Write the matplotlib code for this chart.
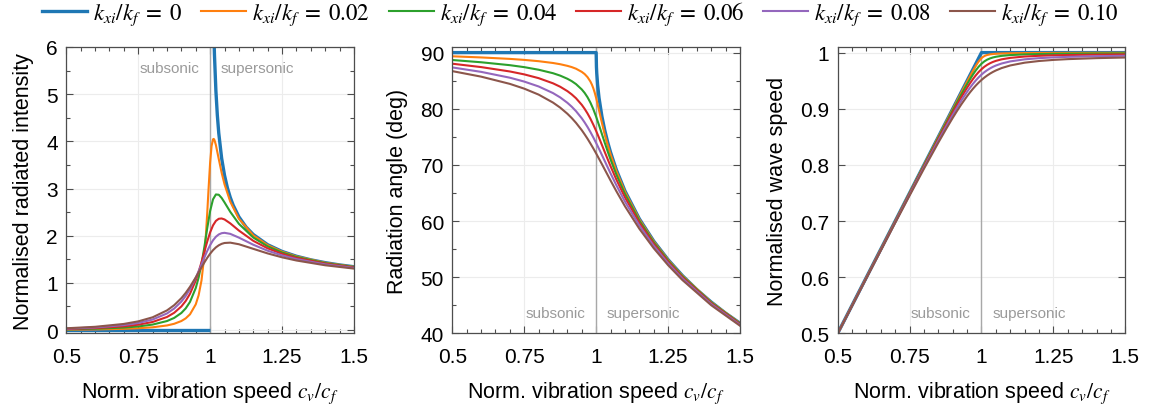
import matplotlib
matplotlib.use("Agg")
import matplotlib.pyplot as plt
from matplotlib.ticker import MultipleLocator, FuncFormatter, NullLocator

plt.rcParams["font.family"] = ["Liberation Sans", "DejaVu Sans"]
plt.rcParams["mathtext.fontset"] = "stix"

# ---- data ----
DAMPING = ["0", "0.02", "0.04", "0.06", "0.08", "0.10"]
COLORS = ["#1f77b4", "#ff7f0e", "#2ca02c", "#d62728", "#9467bd", "#8c564b"]

# undamped (kxi/kf = 0)
x0_sub = [0.5, 1.0]
int0_sub = [0.0, 0.0]
x0_int = [1.01, 1.012, 1.015, 1.02, 1.025, 1.03, 1.04, 1.05, 1.06, 1.07, 1.08,
          1.1, 1.125, 1.15, 1.2, 1.25, 1.3, 1.35, 1.4, 1.45, 1.5]
int0 = [7.124, 6.513, 5.838, 5.075, 4.556, 4.174, 3.641, 3.280, 3.015, 2.811, 2.648,
        2.400, 2.183, 2.025, 1.809, 1.667, 1.565, 1.489, 1.429, 1.381, 1.342]
x0_ang = [0.5, 1.0, 1.001, 1.002, 1.005, 1.01, 1.02, 1.03, 1.04, 1.05, 1.07, 1.1,
          1.15, 1.2, 1.25, 1.3, 1.35, 1.4, 1.45, 1.5]
ang0 = [90, 90, 87.44, 86.38, 84.28, 81.93, 78.63, 76.14, 74.06, 72.25, 69.16, 65.38,
        60.41, 56.44, 53.13, 50.28, 47.79, 45.58, 43.60, 41.81]
x0_spd = [0.5, 1.0, 1.5]
spd0 = [0.5, 1.0, 1.0]

# kxi/kf = 0.02 (finer grid near 1)
x_02 = [0.5, 0.6, 0.7, 0.75, 0.8, 0.85, 0.875, 0.9, 0.915, 0.93, 0.95, 0.96, 0.97,
        0.98, 0.985, 0.99, 0.995, 1.0, 1.005, 1.01, 1.0125, 1.015, 1.02, 1.03, 1.04,
        1.05, 1.07, 1.1, 1.15, 1.2, 1.25, 1.3, 1.4, 1.5]
int_02 = [0.0077, 0.0141, 0.0269, 0.0388, 0.0590, 0.0981, 0.1334, 0.1918, 0.2480,
          0.3340, 0.5453, 0.7379, 1.0523, 1.5924, 1.9922, 2.4892, 3.0435, 3.5531,
          3.9005, 4.0439, 4.0516, 4.0283, 3.9228, 3.6249, 3.3352, 3.0902, 2.7206,
          2.3596, 2.0082, 1.7999, 1.6609, 1.5609, 1.4265, 1.3400]
ang_02 = [89.34, 89.14, 88.88, 88.70, 88.47, 88.15, 87.93, 87.64, 87.42, 87.13, 86.57,
          86.18, 85.63, 84.85, 84.32, 83.67, 82.86, 81.91, 80.84, 79.72, 79.15, 78.59,
          77.49, 75.42, 73.57, 71.88, 68.93, 65.23, 60.32, 56.39, 53.09, 50.25, 45.56,
          41.80]
spd_02 = [0.49997, 0.59993, 0.69987, 0.74981, 0.79971, 0.84956, 0.87443, 0.89923,
          0.91407, 0.92883, 0.94831, 0.95787, 0.96719, 0.97604, 0.98017, 0.98398,
          0.98729, 0.99005, 0.99219, 0.99378, 0.99440, 0.99493, 0.99577, 0.99686,
          0.99751, 0.99794, 0.99846, 0.99886, 0.99919, 0.99935, 0.99945, 0.99951,
          0.99959, 0.99964]

# common grid for kxi/kf = 0.04 ... 0.10
x_d = [0.5, 0.6, 0.7, 0.75, 0.8, 0.85, 0.875, 0.9, 0.915, 0.93, 0.95, 0.96, 0.97,
       0.98, 0.99, 1.0, 1.01, 1.02, 1.03, 1.04, 1.05, 1.07, 1.1, 1.15, 1.2, 1.25,
       1.3, 1.4, 1.5]

int_04 = [0.0154, 0.0281, 0.0535, 0.0771, 0.1167, 0.1918, 0.2577, 0.3630, 0.4591,
          0.5971, 0.8916, 1.1132, 1.4025, 1.7617, 2.1607, 2.5246, 2.7711, 2.8745,
          2.8683, 2.8005, 2.7062, 2.5061, 2.2520, 1.9610, 1.7735, 1.6439, 1.5490,
          1.4194, 1.3351]
int_06 = [0.0230, 0.0420, 0.0798, 0.1144, 0.1719, 0.2774, 0.3665, 0.5011, 0.6163,
          0.7691, 1.0521, 1.2334, 1.4394, 1.6603, 1.8785, 2.0712, 2.2191, 2.3140,
          2.3592, 2.3654, 2.3449, 2.2616, 2.1094, 1.8914, 1.7329, 1.6171, 1.5299,
          1.4079, 1.3272]
int_08 = [0.0307, 0.0558, 0.1054, 0.1503, 0.2234, 0.3527, 0.4565, 0.6042, 0.7221,
          0.8675, 1.1084, 1.2470, 1.3929, 1.5396, 1.6788, 1.8020, 1.9028, 1.9777,
          2.0270, 2.0535, 2.0615, 2.0394, 1.9600, 1.8090, 1.6820, 1.5826, 1.5047,
          1.3924, 1.3164]
int_10 = [0.0383, 0.0694, 0.1303, 0.1845, 0.2708, 0.4168, 0.5278, 0.6765, 0.7880,
          0.9175, 1.1154, 1.2217, 1.3290, 1.4337, 1.5317, 1.6191, 1.6934, 1.7528,
          1.7973, 1.8278, 1.8459, 1.8531, 1.8194, 1.7220, 1.6248, 1.5423, 1.4747,
          1.3736, 1.3031]

ang_04 = [88.68, 88.28, 87.76, 87.41, 86.95, 86.33, 85.90, 85.34, 84.92, 84.39, 83.44,
          82.82, 82.05, 81.10, 79.94, 78.58, 77.07, 75.50, 73.93, 72.41, 70.97, 68.30,
          64.84, 60.08, 56.22, 52.96, 50.15, 45.49, 41.74]
ang_06 = [88.02, 87.42, 86.64, 86.12, 85.45, 84.53, 83.92, 83.14, 82.56, 81.87, 80.70,
          79.98, 79.16, 78.23, 77.18, 76.04, 74.82, 73.56, 72.28, 71.02, 69.78, 67.42,
          64.23, 59.71, 55.95, 52.76, 49.99, 45.37, 41.65]
ang_08 = [87.36, 86.57, 85.53, 84.84, 83.97, 82.79, 82.02, 81.06, 80.37, 79.57, 78.30,
          77.56, 76.75, 75.86, 74.91, 73.90, 72.85, 71.77, 70.68, 69.58, 68.50, 66.41,
          63.48, 59.22, 55.60, 52.48, 49.76, 45.21, 41.52]
ang_10 = [86.70, 85.72, 84.43, 83.58, 82.52, 81.10, 80.20, 79.11, 78.35, 77.49, 76.18,
          75.44, 74.66, 73.82, 72.95, 72.04, 71.09, 70.14, 69.17, 68.20, 67.23, 65.34,
          62.65, 58.64, 55.17, 52.15, 49.49, 45.01, 41.36]

spd_04 = [0.49987, 0.59973, 0.69946, 0.74923, 0.79886, 0.84826, 0.87276, 0.89703,
          0.91141, 0.92555, 0.94379, 0.95246, 0.96067, 0.96820, 0.97478, 0.98020,
          0.98440, 0.98749, 0.98973, 0.99136, 0.99257, 0.99420, 0.99560, 0.99681,
          0.99742, 0.99780, 0.99806, 0.99838, 0.99857]
spd_06 = [0.49970, 0.59940, 0.69879, 0.74828, 0.79747, 0.84614, 0.87009, 0.89356,
          0.90731, 0.92065, 0.93750, 0.94536, 0.95269, 0.95938, 0.96533, 0.97045,
          0.97476, 0.97827, 0.98113, 0.98342, 0.98527, 0.98801, 0.99061, 0.99300,
          0.99431, 0.99512, 0.99567, 0.99637, 0.99679]
spd_08 = [0.49947, 0.59893, 0.69787, 0.74697, 0.79557, 0.84328, 0.86652, 0.88907,
          0.90212, 0.91465, 0.93025, 0.93745, 0.94417, 0.95032, 0.95587, 0.96080,
          0.96511, 0.96882, 0.97199, 0.97469, 0.97698, 0.98060, 0.98432, 0.98800,
          0.99012, 0.99148, 0.99242, 0.99361, 0.99434]
spd_10 = [0.49917, 0.59833, 0.69669, 0.74530, 0.79318, 0.83977, 0.86223, 0.88380,
          0.89615, 0.90792, 0.92248, 0.92918, 0.93543, 0.94120, 0.94648, 0.95125,
          0.95552, 0.95932, 0.96267, 0.96561, 0.96818, 0.97246, 0.97711, 0.98203,
          0.98502, 0.98698, 0.98836, 0.99014, 0.99124]

TICK_FS = 15
LABEL_FS = 15.5
NOTE_FS = 11
SPINE = "#4d4d4d"
NOTE = "#9a9a9a"


def style_axes(ax, ylim, ymajor, yminor):
    ax.set_xlim(0.5, 1.5)
    ax.set_ylim(*ylim)
    ax.xaxis.set_major_locator(MultipleLocator(0.25))
    ax.xaxis.set_minor_locator(MultipleLocator(0.05))
    ax.yaxis.set_major_locator(MultipleLocator(ymajor))
    if yminor:
        ax.yaxis.set_minor_locator(MultipleLocator(yminor))
    else:
        ax.yaxis.set_minor_locator(NullLocator())
    fmt = FuncFormatter(lambda v, _: f"{v:g}")
    ax.xaxis.set_major_formatter(fmt)
    ax.yaxis.set_major_formatter(fmt)
    ax.tick_params(which="both", direction="in", top=True, right=True,
                   color=SPINE, width=0.8, labelsize=TICK_FS)
    ax.tick_params(axis="x", pad=9.5)
    ax.tick_params(axis="y", pad=6)
    ax.tick_params(which="major", length=5)
    ax.tick_params(which="minor", length=3)
    for s in ax.spines.values():
        s.set_color(SPINE)
        s.set_linewidth(0.9)
    ax.grid(True, which="major", color="#ececec", lw=0.8)
    ax.set_axisbelow(True)
    ax.axvline(1.0, color="#a8a8a8", lw=1.0, zorder=1.5)
    ax.set_xlabel(r"Norm. vibration speed $c_v/c_f$", fontsize=LABEL_FS, labelpad=10)


def notes(ax, yfrac):
    tr = ax.get_xaxis_transform()
    ax.text(0.962, yfrac, "subsonic", transform=tr, ha="right", va="baseline",
            fontsize=NOTE_FS, color=NOTE)
    ax.text(1.037, yfrac, "supersonic", transform=tr, ha="left", va="baseline",
            fontsize=NOTE_FS, color=NOTE)


fig = plt.figure(figsize=(11.53, 4.14), dpi=100)
bottom, height, width = 0.1923, 0.6918, 0.2495
ax1 = fig.add_axes([0.0575, bottom, width, height])
ax2 = fig.add_axes([0.3923, bottom, width, height])
ax3 = fig.add_axes([0.7265, bottom, width, height])

labels = [rf"$k_{{xi}}/k_f\;=\;{d}$" for d in DAMPING]
lw_blue, lw = 2.4, 1.5

# panel 1: intensity
h = []
ax1.plot(x0_sub, int0_sub, color=COLORS[0], lw=lw_blue, solid_capstyle="butt")
h.append(ax1.plot(x0_int, int0, color=COLORS[0], lw=lw_blue)[0])
h.append(ax1.plot(x_02, int_02, color=COLORS[1], lw=lw)[0])
for c, y in zip(COLORS[2:], [int_04, int_06, int_08, int_10]):
    h.append(ax1.plot(x_d, y, color=c, lw=lw)[0])
style_axes(ax1, (-0.07, 6), 1, 0.5)
ax1.set_ylabel("Normalised radiated intensity", fontsize=LABEL_FS, labelpad=9)
notes(ax1, 0.9127)

# panel 2: radiation angle
ax2.plot(x0_ang, ang0, color=COLORS[0], lw=lw_blue)
ax2.plot(x_02, ang_02, color=COLORS[1], lw=lw)
for c, y in zip(COLORS[2:], [ang_04, ang_06, ang_08, ang_10]):
    ax2.plot(x_d, y, color=c, lw=lw)
style_axes(ax2, (40, 91), 10, 5)
ax2.set_ylabel("Radiation angle (deg)", fontsize=LABEL_FS, labelpad=9)
notes(ax2, 0.0562)

# panel 3: wave speed
ax3.plot(x0_spd, spd0, color=COLORS[0], lw=lw_blue)
ax3.plot(x_02, spd_02, color=COLORS[1], lw=lw)
for c, y in zip(COLORS[2:], [spd_04, spd_06, spd_08, spd_10]):
    ax3.plot(x_d, y, color=c, lw=lw)
style_axes(ax3, (0.5, 1.01), 0.1, None)
ax3.set_ylabel("Normalised wave speed", fontsize=LABEL_FS, labelpad=9)
notes(ax3, 0.0562)

fig.legend(h, labels, loc="center", bbox_to_anchor=(0.5035, 0.966), ncol=6,
           frameon=False, fontsize=16.5, handlelength=1.96, handletextpad=0.26,
           columnspacing=0.83, borderaxespad=0)

fig.savefig("out.png", dpi=100)
